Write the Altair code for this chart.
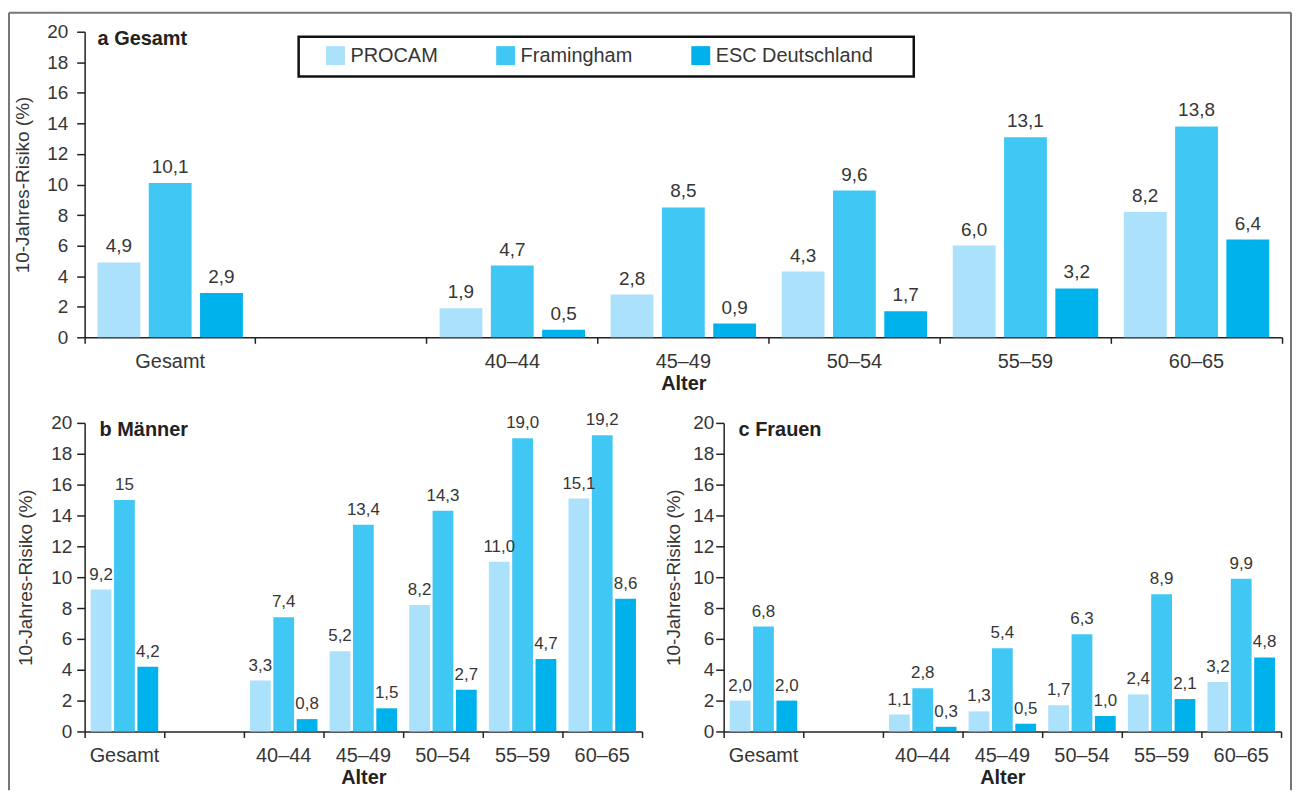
import altair as alt
import pandas as pd

# ---------------- data ----------------
categories = ["Gesamt", "40–44", "45–49", "50–54", "55–59", "60–65"]
axis_domain = ["Gesamt", " ", "40–44", "45–49", "50–54", "55–59", "60–65"]
series = ["PROCAM", "Framingham", "ESC Deutschland"]
colors = ["#abe1fa", "#41c7f3", "#00b2ec"]

a_procam = [4.9, 1.9, 2.8, 4.3, 6.0, 8.2]
a_framingham = [10.1, 4.7, 8.5, 9.6, 13.1, 13.8]
a_esc = [2.9, 0.5, 0.9, 1.7, 3.2, 6.4]

b_procam = [9.2, 3.3, 5.2, 8.2, 11.0, 15.1]
b_framingham = [15, 7.4, 13.4, 14.3, 19.0, 19.2]
b_esc = [4.2, 0.8, 1.5, 2.7, 4.7, 8.6]

c_procam = [2.0, 1.1, 1.3, 1.7, 2.4, 3.2]
c_framingham = [6.8, 2.8, 5.4, 6.3, 8.9, 9.9]
c_esc = [2.0, 0.3, 0.5, 1.0, 2.1, 4.8]

y_ticks = list(range(0, 21, 2))

FONT = "Liberation Sans"
TXT = "#363636"
AX = "#222222"


def make_df(procam, fram, esc):
    rows = []
    for s, vals in zip(series, [procam, fram, esc]):
        for c, v in zip(categories, vals):
            rows.append({"Alter": c, "Modell": s, "Wert": float(v),
                         "Label": str(v).replace(".", ",")})
    return pd.DataFrame(rows)


one = pd.DataFrame({"k": [0]})


def panel(df, title, w, h, p_in, p_out, val_size, title_x, lab_pad, ttl_pad,
          legend=None, frame=False):
    x_scale = alt.Scale(domain=axis_domain, paddingInner=0, paddingOuter=0)
    y_scale = alt.Scale(domain=[0, 20], nice=False, zero=True)
    xo = alt.XOffset("Modell:N", sort=series,
                     scale=alt.Scale(domain=series, paddingInner=p_in, paddingOuter=p_out))
    y_axis = alt.Axis(values=y_ticks, grid=False, tickSize=8, tickColor=AX, tickWidth=1.5,
                      domainColor=AX, domainWidth=1.5, labelFontSize=19, labelColor=TXT,
                      labelPadding=lab_pad, title="10-Jahres-Risiko (%)", titleFontSize=19,
                      titleFontWeight="normal", titleColor=TXT, titlePadding=ttl_pad)
    y_enc = alt.Y("Wert:Q", scale=y_scale, axis=y_axis, stack=None)
    label_axis = alt.Axis(orient="bottom", ticks=False, domain=True, domainColor=AX,
                          domainWidth=1.5, labelAngle=0, labelFontSize=20, labelColor=TXT,
                          labelPadding=14, title="Alter", titleFontSize=20,
                          titleFontWeight="bold", titleColor=AX, titlePadding=2, grid=False)
    tick_axis = alt.Axis(orient="bottom", bandPosition=0, labels=False, domain=False,
                         title=None, ticks=True, tickSize=6, tickColor=AX, tickWidth=1.5,
                         grid=False)
    end_axis = alt.Axis(orient="bottom", bandPosition=1, values=["60–65"], labels=False,
                        domain=False, title=None, ticks=True, tickSize=6, tickColor=AX,
                        tickWidth=1.5, grid=False)
    color_enc = alt.Color("Modell:N", sort=series,
                          scale=alt.Scale(domain=series, range=colors),
                          legend=legend)

    bars = alt.Chart(df).mark_bar().encode(
        x=alt.X("Alter:N", scale=x_scale, sort=axis_domain, axis=label_axis),
        xOffset=xo, y=y_enc, color=color_enc)
    texts = alt.Chart(df).mark_text(baseline="alphabetic", dy=-10, fontSize=val_size,
                                    color=TXT, font=FONT).encode(
        x=alt.X("Alter:N", scale=x_scale, sort=axis_domain, axis=tick_axis),
        xOffset=xo, y=y_enc, text="Label:N")
    ends = alt.Chart(df).mark_bar(opacity=0).encode(
        x=alt.X("Alter:N", scale=x_scale, sort=axis_domain, axis=end_axis),
        xOffset=xo, y=y_enc)
    ttl = alt.Chart(one).mark_text(align="left", baseline="alphabetic", fontSize=20,
                                   fontWeight="bold", color=AX, font=FONT).encode(
        x=alt.value(title_x), y=alt.value(13), text=alt.value(title))
    layers = [bars, texts, ends, ttl]
    if frame:
        legend_box = alt.Chart(one).mark_rect(fillOpacity=0, stroke="#111111",
                                              strokeWidth=2.5).encode(
            x=alt.value(215), x2=alt.value(833), y=alt.value(5), y2=alt.value(45))
        left = alt.Chart(one).mark_rule(color="#777777", strokeWidth=2).encode(
            x=alt.value(-76), y=alt.value(-19), y2=alt.value(762))
        top = alt.Chart(one).mark_rule(color="#777777", strokeWidth=2).encode(
            x=alt.value(-76), x2=alt.value(1212), y=alt.value(-19))
        right = alt.Chart(one).mark_rule(color="#777777", strokeWidth=2).encode(
            x=alt.value(1212), y=alt.value(-19), y2=alt.value(762))
        layers += [legend_box, left, top, right]
    return alt.layer(*layers).resolve_axis(x="independent").properties(width=w, height=h)


legend_a = alt.Legend(title=None, orient="none", legendX=242, legendY=14,
                      direction="horizontal", symbolType="square", symbolSize=361,
                      symbolStrokeWidth=0, symbolOpacity=1, labelFontSize=20,
                      labelFont=FONT, labelColor=TXT, labelOffset=5, columnPadding=58,
                      padding=0)

pa = panel(make_df(a_procam, a_framingham, a_esc), "a Gesamt", 1203, 307,
           0.165, 0.25, 19, 13, 9, 14, legend=legend_a, frame=True)
pb = panel(make_df(b_procam, b_framingham, b_esc), "b Männer", 560, 310,
           0.11, 0.26, 17, 15, 5, 15)
pc = panel(make_df(c_procam, c_framingham, c_esc), "c Frauen", 560, 310,
           0.11, 0.26, 17, 15, 2, 9)

bottom = alt.hconcat(pb, pc, spacing=82, bounds="flush").resolve_scale(
    x="independent", xOffset="independent", y="independent")

chart = alt.vconcat(
    pa, bottom, spacing=86, bounds="flush",
).resolve_scale(
    x="independent", xOffset="independent", y="independent"
).resolve_legend(color="independent").properties(
    padding={"top": 2, "left": 0, "right": 0, "bottom": 0}
).configure(font=FONT).configure_view(strokeWidth=0)

chart.save("out.html", embed_options={"renderer": "svg", "actions": False})
